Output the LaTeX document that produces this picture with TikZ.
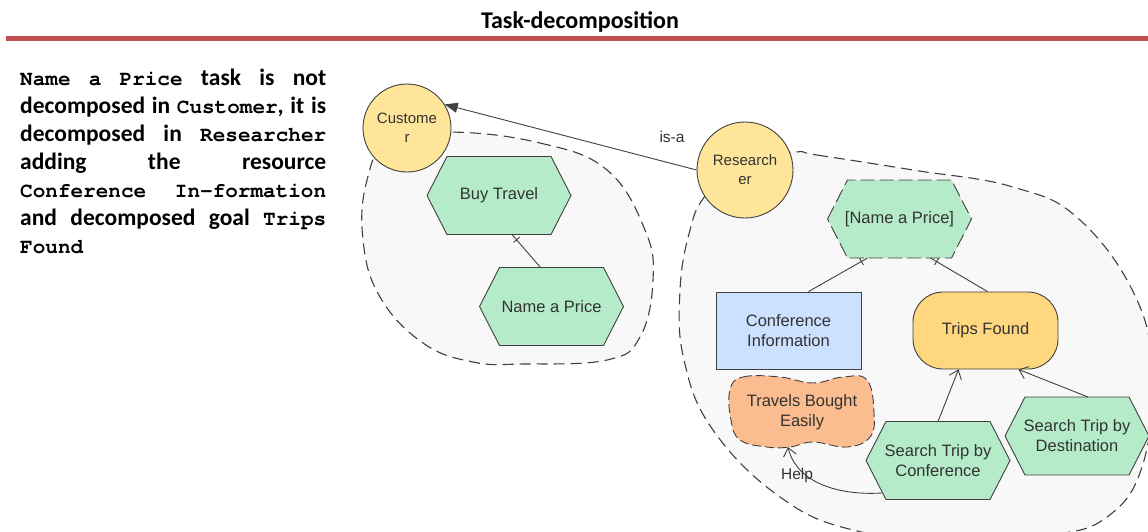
\documentclass[tikz,border=0pt]{standalone}
\usepackage{fontspec}
\setmainfont{Liberation Sans}
\newfontfamily\calb{Carlito}
\newfontfamily\courb{TeX Gyre Cursor}
\usetikzlibrary{arrows.meta,decorations.markings}
\definecolor{linec}{HTML}{404040}
\definecolor{bgc}{HTML}{F8F8F8}
\definecolor{greenc}{HTML}{B6EBCA}
\definecolor{yellowc}{HTML}{FFE599}
\definecolor{goalc}{HTML}{FFD77F}
\definecolor{bluec}{HTML}{CCE0FF}
\definecolor{orangec}{HTML}{FBBD90}
\definecolor{redc}{HTML}{C0504D}
\definecolor{txtc}{HTML}{333333}
\newcommand\cb[1]{{\courb\bfseries\fontsize{21}{28}\selectfont #1}}
\newcommand\hexa[5][]{%
  \filldraw[hexst,#1] ({#3-72},#4) -- ({#3-52},{#4-39}) -- ({#3+52},{#4-39}) -- ({#3+72},#4) -- ({#3+52},{#4+39}) -- ({#3-52},{#4+39}) -- cycle;
  \node[hexlbl] (#2) at (#3,#4) {#5};}
\begin{document}
\begin{tikzpicture}[x=1pt,y=-1pt,
  boundary/.style={draw=linec, fill=bgc, line width=1.1pt, dash pattern=on 11pt off 6pt},
  actor/.style={circle, draw=linec, fill=yellowc, line width=0.9pt, minimum size=88pt, inner sep=0pt, align=center, font=\fontsize{15}{19}\selectfont, text=txtc},
  hexst/.style={draw=linec, fill=greenc, line width=0.9pt},
  hexlbl/.style={minimum width=144pt, minimum height=78pt, inner sep=0pt, outer sep=0pt, align=center, font=\fontsize{16.5}{20}\selectfont, text=txtc},
  resbox/.style={draw=linec, fill=bluec, line width=0.9pt, minimum width=145pt, minimum height=77pt, inner sep=0pt, align=center, font=\fontsize{16.5}{20}\selectfont, text=txtc},
  goalbox/.style={draw=linec, fill=goalc, line width=0.9pt, rounded corners=30pt, minimum width=145pt, minimum height=77pt, inner sep=0pt, align=center, font=\fontsize{16.5}{20}\selectfont, text=txtc},
  lbl/.style={font=\fontsize{15.5}{19}\selectfont, text=txtc, inner sep=1pt},
  lefttxt/.style={anchor=base west, inner sep=0pt, font=\calb\bfseries\fontsize{23.5}{28}\selectfont},
  decomp/.style={draw=linec, line width=0.9pt, postaction={decorate, decoration={markings, mark=at position -7pt with {\draw[linec, line width=0.9pt] (0,-4pt) -- (0,4pt);}}}},
  meansend/.style={draw=linec, line width=0.9pt, -{Straight Barb[length=8pt,width=13pt]}},
  isa/.style={draw=linec, line width=0.9pt, -{Triangle[length=13pt,width=10pt]}}
]
\useasboundingbox (0,0) rectangle (1148,531);
\fill[white] (0,0) rectangle (1148,531);
% title and rule
\node[anchor=base, inner sep=0pt, font=\calb\bfseries\fontsize{24}{28}\selectfont] (title) at (580,28) {Task-decomposition};
\fill[redc] (6,36) rectangle (1148,41);
% left text
\node[lefttxt] (l1) at (20,85) {\hbox to 306pt{\cb{Name}\hfill\cb{a}\hfill\cb{Price}\hfill task\hfill is\hfill not}};
\node[lefttxt] (l2) at (20,113) {\hbox to 306pt{decomposed\hfill in\hfill\cb{Customer},\hfill it\hfill is}};
\node[lefttxt] (l3) at (20,141) {\hbox to 306pt{decomposed\hfill in\hfill\cb{Researcher}}};
\node[lefttxt] (l4) at (20,169) {\hbox to 306pt{adding\hfill the\hfill resource}};
\node[lefttxt] (l5) at (20,197) {\hbox to 306pt{\cb{Conference}\hfill\cb{In-formation}}};
\node[lefttxt] (l6) at (20,225) {\hbox to 306pt{and\hfill decomposed\hfill goal\hfill\cb{Trips}}};
\node[lefttxt] (l7) at (20,253) {\cb{Found}};
% boundaries
\path[boundary] plot[smooth cycle, tension=0.7] coordinates {(451,132) (540,143) (607,170) (645,230) (653,280) (640,337) (607,360) (523,364) (473,362) (423,343) (380,297) (363,240) (367,180) (390,140)};
\path[boundary] plot[smooth cycle, tension=0.7] coordinates {(795,152) (817,155) (913,170) (1013,187) (1080,220) (1137,300) (1152,380) (1142,467) (1107,517) (1050,535) (950,540) (853,530) (780,497) (713,430) (684,360) (680,290) (690,230) (705,196) (740,160)};
% actors
\node[actor] (cust) at (407,128) {Custome\\r};
\node[actor, minimum size=96pt] (res) at (745,170) {Research\\er};
\draw[isa] (res.180) -- (cust.32);
\node[lbl] (isal) at (672,137) {is-a};
% customer boundary elements
\hexa{bt}{499}{195.5}{Buy Travel}
\hexa{np}{551.5}{306.5}{Name a Price}
\draw[decomp] ([xshift=-11pt]np.north) -- ([xshift=13pt]bt.south);
% researcher boundary elements
\hexa[dash pattern=on 14pt off 5pt]{nap}{899.5}{219}{[Name a Price]}
\node[resbox] (ci) at (788.5,330.5) {Conference\\Information};
\node[goalbox] (tf) at (985.5,330.5) {Trips Found};
\draw[decomp] ([xshift=20pt]ci.north) -- ([xshift=-32pt]nap.south);
\draw[decomp] ([xshift=2pt]tf.north) -- ([xshift=31pt]nap.south);
% softgoal cloud
\filldraw[draw=linec, fill=orangec, line width=0.9pt, dash pattern=on 9pt off 4pt] plot[smooth cycle, tension=0.7] coordinates {(730,390) (743,377) (780,377) (813,383) (843,377) (867,380) (874,413) (870,437) (847,447) (813,442) (790,447) (767,447) (740,440) (731,420)};
\node[align=center, inner sep=0pt, font=\fontsize{16.5}{20}\selectfont, text=txtc] (tbe) at (802,412) {Travels Bought\\Easily};
\coordinate (tbeb) at (788,447);
\hexa{stc}{938}{460.5}{Search Trip by\\Conference}
\hexa{std}{1077}{436}{Search Trip by\\Destination}
\draw[meansend] (stc.north) -- ([xshift=-27pt]tf.south);
\draw[meansend] ([xshift=11pt]std.north) -- ([xshift=33pt]tf.south);
\coordinate (stcl) at (882,493);
\draw[meansend] (stcl) .. controls (830,496) and (795,478) .. (tbeb);
\node[lbl] (help) at (797,475) {Help};
\end{tikzpicture}
\end{document}
